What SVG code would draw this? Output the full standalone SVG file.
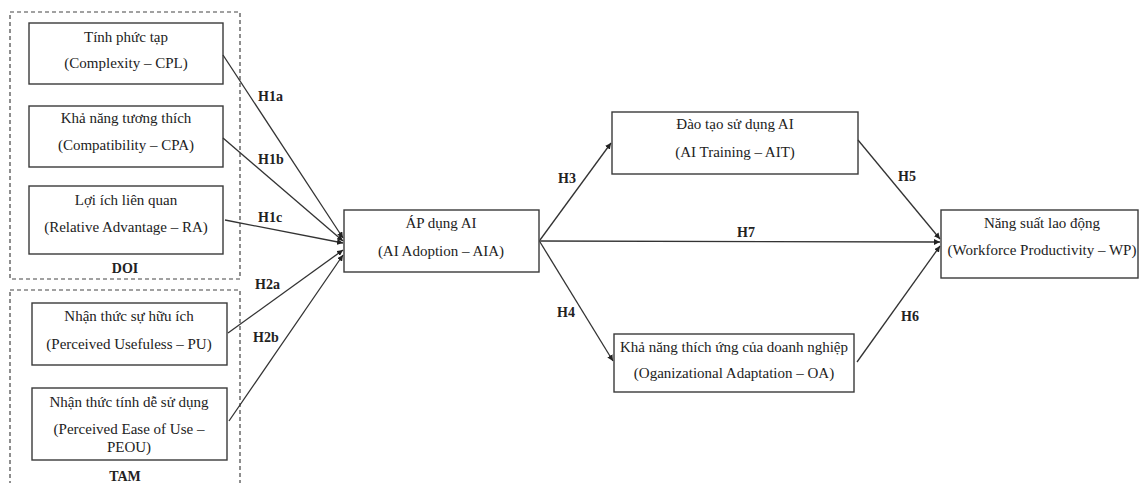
<svg xmlns="http://www.w3.org/2000/svg" width="1140" height="483" viewBox="0 0 1140 483">
<style>
.box{fill:#fff;stroke:#3a3a3a;stroke-width:1.4}
.grp{fill:none;stroke:#444;stroke-width:1.2;stroke-dasharray:4 3}
.t{font-family:"Liberation Serif","Times New Roman",serif;font-size:15px;fill:#222;text-anchor:middle}
.lb{font-family:"Liberation Serif","Times New Roman",serif;font-size:14px;font-weight:bold;fill:#222}
.c{stroke:#333;stroke-width:1.3;fill:none;marker-end:url(#ah)}
</style>
<defs>
<marker id="ah" viewBox="0 0 10 10" refX="10" refY="5" markerWidth="6" markerHeight="6" markerUnits="userSpaceOnUse" orient="auto">
<path d="M0,0 L10,5 L0,10 z" fill="#222"/>
</marker>
</defs>
<rect width="1140" height="483" fill="#fff"/>
<g id="group-doi">
<rect class="grp" x="10" y="12" width="230" height="267"/>
<text class="lb" x="125" y="273" text-anchor="middle">DOI</text>
</g>
<g id="group-tam">
<rect class="grp" x="10" y="290" width="230" height="200"/>
<text class="lb" x="125" y="481" text-anchor="middle">TAM</text>
</g>
<g id="node-cpl">
<rect class="box" x="29" y="23" width="194" height="61"/>
<text class="t" x="126" y="42">Tính phức tạp</text>
<text class="t" x="126" y="68">(Complexity – CPL)</text>
</g>
<g id="node-cpa">
<rect class="box" x="29" y="106" width="194" height="61"/>
<text class="t" x="126" y="123">Khả năng tương thích</text>
<text class="t" x="126" y="150">(Compatibility – CPA)</text>
</g>
<g id="node-ra">
<rect class="box" x="29" y="186" width="194" height="68"/>
<text class="t" x="126" y="205">Lợi ích liên quan</text>
<text class="t" x="126" y="232">(Relative Advantage – RA)</text>
</g>
<g id="node-pu">
<rect class="box" x="32" y="303" width="195" height="62"/>
<text class="t" x="129" y="321">Nhận thức sự hữu ích</text>
<text class="t" x="129" y="349">(Perceived Usefuless – PU)</text>
</g>
<g id="node-peou">
<rect class="box" x="32" y="388" width="195" height="72"/>
<text class="t" x="129" y="407">Nhận thức tính dễ sử dụng</text>
<text class="t" x="129" y="434">(Perceived Ease of Use –</text>
<text class="t" x="129" y="452">PEOU)</text>
</g>
<g id="node-aia">
<rect class="box" x="344" y="210" width="195" height="62"/>
<text class="t" x="441" y="228">ÁP dụng AI</text>
<text class="t" x="441" y="256">(AI Adoption – AIA)</text>
</g>
<g id="node-ait">
<rect class="box" x="612" y="112" width="246" height="62"/>
<text class="t" x="735" y="129">Đào tạo sử dụng AI</text>
<text class="t" x="735" y="157">(AI Training – AIT)</text>
</g>
<g id="node-oa">
<rect class="box" x="614" y="334" width="240" height="58"/>
<text class="t" x="734" y="352">Khả năng thích ứng của doanh nghiệp</text>
<text class="t" x="734" y="378">(Oganizational Adaptation – OA)</text>
</g>
<g id="node-wp">
<rect class="box" x="941" y="210" width="197" height="68"/>
<text class="t" x="1042" y="228">Năng suất lao động</text>
<text class="t" x="1042" y="255">(Workforce Productivity – WP)</text>
</g>
<g id="connectors">
<line class="c" x1="223" y1="55" x2="343" y2="238"/>
<line class="c" x1="223" y1="138" x2="343" y2="241"/>
<line class="c" x1="225" y1="220" x2="343" y2="243"/>
<line class="c" x1="228" y1="333" x2="343" y2="250"/>
<line class="c" x1="229" y1="421" x2="343" y2="255"/>
<line class="c" x1="540" y1="240" x2="611" y2="143"/>
<line class="c" x1="540" y1="242" x2="613" y2="361"/>
<line class="c" x1="539" y1="241" x2="940" y2="242"/>
<line class="c" x1="858" y1="140" x2="940" y2="239"/>
<line class="c" x1="857" y1="362" x2="940" y2="246"/>
<text class="lb" x="258" y="101">H1a</text>
<text class="lb" x="258" y="164">H1b</text>
<text class="lb" x="258" y="222">H1c</text>
<text class="lb" x="255" y="289">H2a</text>
<text class="lb" x="253" y="342">H2b</text>
<text class="lb" x="558" y="183">H3</text>
<text class="lb" x="557" y="317">H4</text>
<text class="lb" x="898" y="181">H5</text>
<text class="lb" x="901" y="321">H6</text>
<text class="lb" x="737" y="237">H7</text>
</g>
</svg>
